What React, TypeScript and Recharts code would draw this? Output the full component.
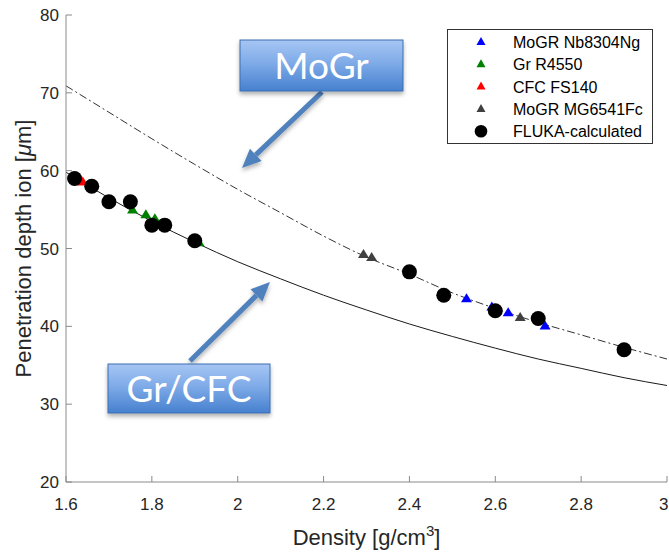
import React from 'react';
import { ComposedChart, Line, Scatter, XAxis, YAxis } from 'recharts';

// ---------- data ----------
const xTicks = [1.6, 1.8, 2, 2.2, 2.4, 2.6, 2.8, 3];
const yTicks = [20, 30, 40, 50, 60, 70, 80];

const fitDensity = [1.6, 1.7, 1.8, 1.9, 2.0, 2.1, 2.2, 2.3, 2.4, 2.5, 2.6, 2.7, 2.8, 2.9, 3.0];
const grCfcFitDepth = [59.8, 56.5, 53.5, 50.8, 48.3, 46.1, 44.0, 42.1, 40.3, 38.7, 37.2, 35.8, 34.6, 33.4, 32.4];
const moGrFitDepth = [70.9, 67.5, 64.1, 60.8, 57.6, 54.6, 51.6, 48.9, 46.7, 44.3, 42.3, 40.5, 38.9, 37.3, 35.8];

const nbDensity = [2.533, 2.592, 2.63, 2.716];
const nbDepth = [43.6, 42.55, 41.8, 40.1];
const r4550Density = [1.755, 1.786, 1.807, 1.91];
const r4550Depth = [55.0, 54.4, 53.9, 50.8];
const fs140Density = [1.639];
const fs140Depth = [58.6];
const mg6541Density = [2.293, 2.312, 2.658];
const mg6541Depth = [49.3, 48.9, 41.2];
const flukaDensity = [1.62, 1.66, 1.7, 1.75, 1.8, 1.83, 1.9, 2.4, 2.48, 2.6, 2.7, 2.9];
const flukaDepth = [59, 58, 56, 56, 53, 53, 51, 47, 44, 42, 41, 37];

const legendLabels = ['MoGR Nb8304Ng', 'Gr R4550', 'CFC FS140', 'MoGR MG6541Fc', 'FLUKA-calculated'];
const annotationLabels = ['MoGr', 'Gr/CFC'];

// ---------- build tables ----------
const zip = (xs: number[], ys: number[]) => xs.map((x, i) => ({ x, y: ys[i] }));
const grCfcFit = zip(fitDensity, grCfcFitDepth);
const moGrFit = zip(fitDensity, moGrFitDepth);
const nbData = zip(nbDensity, nbDepth);
const r4550Data = zip(r4550Density, r4550Depth);
const fs140Data = zip(fs140Density, fs140Depth);
const mg6541Data = zip(mg6541Density, mg6541Depth);
const flukaData = zip(flukaDensity, flukaDepth);

// ---------- styles ----------
const FONT = '"Liberation Sans", Arial, sans-serif';
const AXIS = '#8a8a8a';
const TXT = '#262626';
const colors = ['#0000ff', '#008000', '#ff0000', '#404040', '#000000'];

const BottomTick = (p: any) => {
  const last = p.payload.value === xTicks[xTicks.length - 1];
  return (
    <g>
      <line x1={p.x} y1={p.y} x2={p.x} y2={p.y - 6} stroke={AXIS} />
      <text
        x={last ? p.x + 1.5 : p.x}
        y={p.y + 28}
        textAnchor={last ? 'end' : 'middle'}
        fontSize={17}
        fill={TXT}
        fontFamily={FONT}
      >
        {String(p.payload.value)}
      </text>
    </g>
  );
};
const LeftTick = (p: any) => (
  <g>
    <line x1={p.x} y1={p.y} x2={p.x + 6} y2={p.y} stroke={AXIS} />
    <text x={p.x - 7} y={p.y + 6} textAnchor="end" fontSize={17} fill={TXT} fontFamily={FONT}>
      {String(p.payload.value)}
    </text>
  </g>
);
const TopTick = (p: any) => <line x1={p.x} y1={p.y} x2={p.x} y2={p.y + 6} stroke={AXIS} />;
const RightTick = (p: any) => <line x1={p.x} y1={p.y} x2={p.x - 6} y2={p.y} stroke={AXIS} />;

const tri = (color: string, hw = 5.5, up = 5, down = 4) => (p: any) => {
  const { cx, cy } = p;
  if (cx == null || cy == null) return <g />;
  return <path d={`M${cx},${cy - up} L${cx + hw},${cy + down} L${cx - hw},${cy + down} Z`} fill={color} />;
};
const dotShape = (p: any) => {
  const { cx, cy } = p;
  if (cx == null || cy == null) return <g />;
  return <circle cx={cx} cy={cy} r={7.5} fill="#000" />;
};

const XLabel = (p: any) => {
  const vb = p.viewBox || {};
  const cx = vb.x + vb.width / 2;
  return (
    <text x={cx} y={545} textAnchor="middle" fontSize={22} fill={TXT} fontFamily={FONT}>
      Density [g/cm<tspan dy={-9} fontSize={15}>3</tspan>
      <tspan dy={9}>]</tspan>
    </text>
  );
};
const YLabel = (p: any) => {
  const vb = p.viewBox || {};
  const cy = vb.y + vb.height / 2;
  const cx = 23;
  return (
    <text
      transform={`translate(${cx},${cy}) rotate(-90)`}
      textAnchor="middle"
      dominantBaseline="central"
      fontSize={22}
      fill={TXT}
      fontFamily={FONT}
    >
      Penetration depth ion [<tspan fontStyle="italic">μ</tspan>m]
    </text>
  );
};

const Arrow = ({ x1, y1, x2, y2 }: { x1: number; y1: number; x2: number; y2: number }) => {
  const dx = x2 - x1;
  const dy = y2 - y1;
  const len = Math.sqrt(dx * dx + dy * dy);
  const ux = dx / len;
  const uy = dy / len;
  const hl = 19;
  const hw = 8.5;
  const bx = x2 - ux * hl;
  const by = y2 - uy * hl;
  return (
    <g filter="url(#sh)">
      <line x1={x1} y1={y1} x2={bx} y2={by} stroke="#4f81bd" strokeWidth={5} />
      <path
        d={`M${x2},${y2} L${bx - uy * hw},${by + ux * hw} L${bx + uy * hw},${by - ux * hw} Z`}
        fill="#4f81bd"
      />
    </g>
  );
};

const Callout = ({ x, y, w, h, label }: { x: number; y: number; w: number; h: number; label: string }) => (
  <g>
    <rect x={x} y={y} width={w} height={h} fill="url(#bg)" stroke="#3d6eb0" strokeWidth={1} filter="url(#sh)" />
    <text
      x={x + w / 2}
      y={y + h / 2 + 13}
      textAnchor="middle"
      fontSize={37}
      fill="#ffffff"
      fontFamily='Lato, "Open Sans", sans-serif'
    >
      {label}
    </text>
  </g>
);

const Overlay = () => (
  <svg width={669} height={552} style={{ position: 'absolute', left: 0, top: 0, pointerEvents: 'none' }}>
    <defs>
      <linearGradient id="bg" x1="0" y1="0" x2="0" y2="1">
        <stop offset="0" stopColor="#a6c6f3" />
        <stop offset="0.45" stopColor="#7fabe8" />
        <stop offset="1" stopColor="#4680cf" />
      </linearGradient>
      <filter id="sh" x="-20%" y="-20%" width="140%" height="150%">
        <feDropShadow dx="0" dy="3" stdDeviation="2" floodColor="#000" floodOpacity="0.3" />
      </filter>
    </defs>
    {/* legend */}
    <rect x={447.5} y={29.5} width={205} height={114} fill="#fff" stroke="#333" strokeWidth={1} />
    {legendLabels.map((lab, i) => {
      const cy = 42 + i * 22.3;
      const mx = 481;
      return (
        <g key={lab}>
          {i < 4 ? (
            <path d={`M${mx},${cy - 5} L${mx + 4.5},${cy + 3} L${mx - 4.5},${cy + 3} Z`} fill={colors[i]} />
          ) : (
            <circle cx={mx} cy={cy} r={6.3} fill="#000" />
          )}
          <text x={513} y={cy + 6} fontSize={16} fill="#000" fontFamily={FONT}>
            {lab}
          </text>
        </g>
      );
    })}
    {/* annotations */}
    <Arrow x1={322} y1={92} x2={242} y2={168} />
    <Callout x={240} y={40} w={163} h={51} label={annotationLabels[0]} />
    <Arrow x1={190} y1={361} x2={270} y2={282} />
    <Callout x={108} y={364} w={162} h={49} label={annotationLabels[1]} />
  </svg>
);

export default function App() {
  return (
    <div style={{ position: 'absolute', left: 0, top: 0, width: 669, height: 552, background: '#fff' }}>
      <ComposedChart width={669} height={552} margin={{ top: 15, right: 2, bottom: 0, left: 0 }}>
        <XAxis
          dataKey="x"
          type="number"
          domain={[1.6, 3]}
          ticks={xTicks}
          interval={0}
          height={70}
          allowDataOverflow
          stroke={AXIS}
          tickLine={false}
          tickSize={0}
          tickMargin={0}
          tick={<BottomTick />}
          label={<XLabel />}
        />
        <XAxis
          xAxisId="top"
          orientation="top"
          dataKey="x"
          type="number"
          domain={[1.6, 3]}
          ticks={xTicks}
          interval={0}
          height={0}
          allowDataOverflow
          stroke={AXIS}
          tickLine={false}
          tickSize={0}
          tickMargin={0}
          tick={<TopTick />}
        />
        <YAxis
          dataKey="y"
          type="number"
          domain={[20, 80]}
          ticks={yTicks}
          interval={0}
          width={66}
          allowDataOverflow
          stroke={AXIS}
          tickLine={false}
          tickSize={0}
          tickMargin={0}
          tick={<LeftTick />}
          label={<YLabel />}
        />
        <YAxis
          yAxisId="right"
          orientation="right"
          dataKey="y"
          type="number"
          domain={[20, 80]}
          ticks={yTicks}
          interval={0}
          width={0}
          allowDataOverflow
          stroke={AXIS}
          tickLine={false}
          tickSize={0}
          tickMargin={0}
          tick={<RightTick />}
        />
        <Line
          data={grCfcFit}
          dataKey="y"
          type="monotone"
          stroke="#1a1a1a"
          strokeWidth={1}
          dot={false}
          activeDot={false}
          isAnimationActive={false}
        />
        <Line
          data={moGrFit}
          dataKey="y"
          type="monotone"
          stroke="#333"
          strokeWidth={1}
          strokeDasharray="8 3 2 3"
          dot={false}
          activeDot={false}
          isAnimationActive={false}
        />
        <Scatter data={r4550Data} shape={tri(colors[1])} isAnimationActive={false} />
        <Scatter data={fs140Data} shape={tri(colors[2])} isAnimationActive={false} />
        <Scatter data={mg6541Data} shape={tri(colors[3])} isAnimationActive={false} />
        <Scatter data={nbData} shape={tri(colors[0])} isAnimationActive={false} />
        <Scatter data={flukaData} shape={dotShape} isAnimationActive={false} />
      </ComposedChart>
      <Overlay />
    </div>
  );
}
